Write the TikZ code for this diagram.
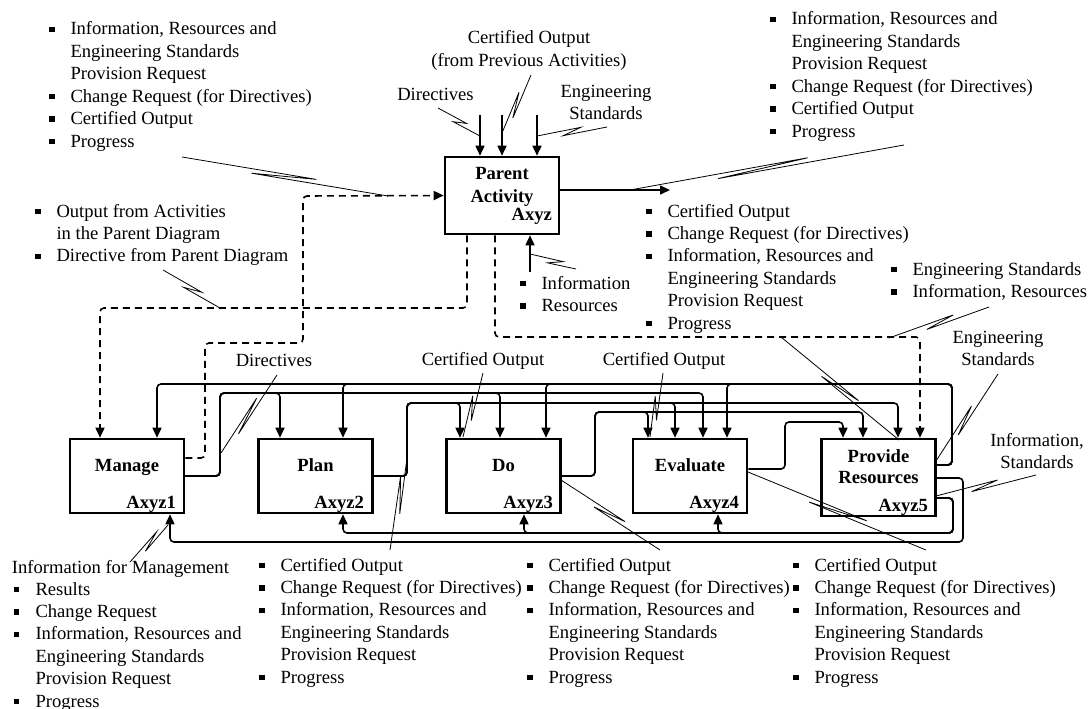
\documentclass[tikz,border=0pt]{standalone}
\usepackage{fontspec}
\setmainfont{Liberation Serif}
\usetikzlibrary{arrows.meta,calc}
\newcommand\mybul{\makebox[21.5pt][l]{\rule[2.7pt]{5.5pt}{5.5pt}}}
\newcommand\myind{\hspace*{21.5pt}}
\newcommand\mylst[1]{\vtop{\baselineskip=22.4pt\lineskiplimit=-30pt\lineskip=0pt\relax #1}}
\newcommand\myli[1]{\hbox{\mybul #1}}
\newcommand\mylc[1]{\hbox{\myind #1}}
\newcommand\myclst[1]{\vtop{\baselineskip=22.4pt\lineskiplimit=-30pt\lineskip=0pt\relax\halign{\hfil##\hfil\cr#1\crcr}}}
\begin{document}
\begin{tikzpicture}[x=1pt,y=-1pt,
 txt/.style={inner sep=0pt, outer sep=0pt, font=\fontsize{18.6}{22.4}\selectfont},
 bt/.style={inner sep=0pt, outer sep=0pt, font=\fontsize{18.6}{22.4}\selectfont\bfseries},
 box/.style={draw, line width=2.6pt, minimum width=114pt, minimum height=74pt, inner sep=0pt},
 conn/.style={line width=1.6pt, rounded corners=4pt},
 arr/.style={-{Triangle[length=10pt,width=9pt]}},
 dsh/.style={conn, dash pattern=on 7pt off 5pt},
 call/.style={line width=0.8pt},
 squig/.style 2 args={to path={-- ($(\tikztostart)!#2!(\tikztotarget)!3pt!90:(\tikztotarget)$) -- ($(\tikztostart)!#1!(\tikztotarget)!3pt!-90:(\tikztotarget)$) -- (\tikztotarget)}},
]
\useasboundingbox (0,0) rectangle (1089,709);

% ---------- boxes ----------
\node[box, minimum height=77pt] (P) at (502,195.5) {};
\node[box] (M) at (127,476) {};
\node[box] (PL) at (315.5,476) {};
\node[box] (D) at (503.5,476) {};
\node[box] (E) at (690,476) {};
\node[box, minimum height=77pt] (R) at (878.5,477.5) {};

\node[bt, anchor=base] (Pt1) at (502,179) {Parent};
\node[bt, anchor=base] (Pt2) at (502,202) {Activity};
\node[bt, anchor=base east] (Pn) at (552,220) {Axyz};
\node[bt, anchor=base] (Mt) at (127,471) {Manage};
\node[bt, anchor=base east] (Mn) at (176,508) {Axyz1};
\node[bt, anchor=base] (PLt) at (315.5,471) {Plan};
\node[bt, anchor=base east] (PLn) at (364,508) {Axyz2};
\node[bt, anchor=base] (Dt) at (503.5,471) {Do};
\node[bt, anchor=base east] (Dn) at (553,508) {Axyz3};
\node[bt, anchor=base] (Et) at (690,471) {Evaluate};
\node[bt, anchor=base east] (En) at (739,508) {Axyz4};
\node[bt, anchor=base] (Rt1) at (878.5,462) {Provide};
\node[bt, anchor=base] (Rt2) at (878.5,483) {Resources};
\node[bt, anchor=base east] (Rn) at (928,511) {Axyz5};

% ---------- parent connectors ----------
\coordinate (pi1) at (480,115);
\coordinate (pi2) at (502,115);
\coordinate (pi3) at (537,115);
\coordinate (po) at (670,190);
\coordinate (pin) at (530,272);
\draw[conn,arr] (pi1) -- (pi1 |- P.north);
\draw[conn,arr] (pi2) -- (pi2 |- P.north);
\draw[conn,arr] (pi3) -- (pi3 |- P.north);
\draw[conn,arr] ([yshift=5.5pt]P.east) -- (po);
\draw[conn,arr] (pin) -- (pin |- P.south);

% dashed
\draw[dsh,arr] ([yshift=18pt]M.east) -| (205,343) -| (303,196) -- (P.west);
\draw[dsh,arr] (467,0 |- P.south) |- (100,308) -- (100,0 |- M.north);
\draw[dsh,arr] (495,0 |- P.south) |- (920,337) -- (920,0 |- R.north);

% ---------- network ----------
\foreach \x/\bx in {280/PL,500/D,703/E}
  \draw[conn,arr] (M.east) -| (220,393) -| (\x,0 |- \bx.north);
\foreach \x/\bx in {157/M,343/PL,546/D,727/E}
  \draw[conn,arr] ([yshift=12.5pt]R.east) -| (952,384) -| (\x,0 |- \bx.north);
\foreach \x/\bx in {460/D,675/E,898/R}
  \draw[conn,arr] (PL.east) -| (407,403) -| (\x,0 |- \bx.north);
\foreach \x/\bx in {648/E,863/R}
  \draw[conn,arr] (D.east) -| (595,412) -| (\x,0 |- \bx.north);
\draw[conn,arr] ([yshift=7pt]E.east) -| (785,422) -| (843,0 |- R.north);
\draw[conn,arr] ([yshift=-0.5pt]R.east) -| (963,542) -| (170,0 |- M.south);
\foreach \x/\bx in {718/E,524/D,343/PL}
  \draw[conn,arr] ([yshift=-20.5pt]R.east) -| (953,533) -| (\x,0 |- \bx.south);

% ---------- callouts ----------
\coordinate (q1a) at (182,157);  \coordinate (q1b) at (388,196);
\coordinate (q2a) at (904,145);  \coordinate (q2b) at (630,190);
\coordinate (q3a) at (438,108);  \coordinate (q3b) at (480,136);
\coordinate (q4a) at (531,75);   \coordinate (q4b) at (502,133);
\coordinate (q5a) at (607,127);  \coordinate (q5b) at (537,136);
\coordinate (q6a) at (576,269);  \coordinate (q6b) at (530,254);
\coordinate (q7a) at (163,270);  \coordinate (q7b) at (220,308);
\coordinate (q8a) at (989,307);  \coordinate (q8b) at (889,338);
\coordinate (q9a) at (781,337);  \coordinate (q9b) at (899,440);
\coordinate (q10a) at (998,374); \coordinate (q10b) at (936,461);
\coordinate (q11a) at (1036,475);\coordinate (q11b) at (936,496);
\coordinate (q12a) at (277,375); \coordinate (q12b) at (221,453);
\coordinate (q13a) at (483,373); \coordinate (q13b) at (463,437);
\coordinate (q14a) at (663,373); \coordinate (q14b) at (650,437);
\coordinate (q15a) at (130,562); \coordinate (q15b) at (168,525);
\coordinate (q16a) at (390,550); \coordinate (q16b) at (407,458);
\coordinate (q17a) at (561,480); \coordinate (q17b) at (660,550);
\coordinate (q18a) at (748,472); \coordinate (q18b) at (926,550);
\draw[call] (q1a) to[squig={0.34}{0.65}] (q1b);
\draw[call] (q2a) to[squig={0.35}{0.68}] (q2b);
\draw[call] (q3a) to[squig={0.4}{0.64}] (q3b);
\draw[call] (q4a) to[squig={0.32}{0.72}] (q4b);
\draw[call] (q5a) to[squig={0.37}{0.63}] (q5b);
\draw[call] (q6a) to[squig={0.3}{0.6}] (q6b);
\draw[call] (q7a) to[squig={0.39}{0.65}] (q7b);
\draw[call] (q8a) to[squig={0.35}{0.63}] (q8b);
\draw[call] (q9a) to[squig={0.36}{0.64}] (q9b);
\draw[call] (q10a) to[squig={0.39}{0.68}] (q10b);
\draw[call] (q11a) to[squig={0.38}{0.65}] (q11b);
\draw[call] (q12a) to[squig={0.32}{0.73}] (q12b);
\draw[call] (q13a) to[squig={0.37}{0.73}] (q13b);
\draw[call] (q14a) to[squig={0.37}{0.73}] (q14b);
\draw[call] (q15a) to[squig={0.35}{0.75}] (q15b);
\draw[call] (q16a) to[squig={0.4}{0.8}] (q16b);
\draw[call] (q17a) to[squig={0.35}{0.63}] (q17b);
\draw[call] (q18a) to[squig={0.35}{0.66}] (q18b);

% ---------- texts ----------
\node[txt, anchor=base west] (tl) at (49,35) {\mylst{\myli{Information, Resources and}\mylc{Engineering Standards}\mylc{Provision Request}\myli{Change Request (for Directives)}\myli{Certified Output}\myli{Progress}}};
\node[txt, anchor=base west] (ml) at (35,217) {\mylst{\myli{Output from Activities}\mylc{in the Parent Diagram}\myli{Directive from Parent Diagram}}};
\node[txt, anchor=base] (tc) at (529,44) {\myclst{Certified Output\cr(from Previous Activities)}};
\node[txt, anchor=base] (tdir) at (435.5,100) {Directives};
\node[txt, anchor=base] (teng) at (606,97) {\myclst{Engineering\cr Standards}};
\node[txt, anchor=base west] (tr) at (770,25) {\mylst{\myli{Information, Resources and}\mylc{Engineering Standards}\mylc{Provision Request}\myli{Change Request (for Directives)}\myli{Certified Output}\myli{Progress}}};
\node[txt, anchor=base west] (pl) at (646,217) {\mylst{\myli{Certified Output}\myli{Change Request (for Directives)}\myli{Information, Resources and}\mylc{Engineering Standards}\mylc{Provision Request}\myli{Progress}}};
\node[txt, anchor=base west] (ir) at (520,289) {\mylst{\myli{Information}\myli{Resources}}};
\node[txt, anchor=base west] (rl) at (891,275) {\mylst{\myli{Engineering Standards}\myli{Information, Resources}}};
\node[txt, anchor=base] (reng) at (998,343) {\myclst{Engineering\cr Standards}};
\node[txt, anchor=base] (ris) at (1037,446) {\myclst{Information,\cr Standards}};
\node[txt, anchor=base] (ldir) at (274,366) {Directives};
\node[txt, anchor=base] (lco1) at (483,365) {Certified Output};
\node[txt, anchor=base] (lco2) at (664,365) {Certified Output};
\node[txt, anchor=base west] (ifm) at (12,573) {Information for Management};
\node[txt, anchor=base west] (b1) at (14,595) {\mylst{\myli{Results}\myli{Change Request}\myli{Information, Resources and}\mylc{Engineering Standards}\mylc{Provision Request}\myli{Progress}}};
\node[txt, anchor=base west] (b2) at (259,571) {\mylst{\myli{Certified Output}\myli{Change Request (for Directives)}\myli{Information, Resources and}\mylc{Engineering Standards}\mylc{Provision Request}\myli{Progress}}};
\node[txt, anchor=base west] (b3) at (527,571) {\mylst{\myli{Certified Output}\myli{Change Request (for Directives)}\myli{Information, Resources and}\mylc{Engineering Standards}\mylc{Provision Request}\myli{Progress}}};
\node[txt, anchor=base west] (b4) at (793,571) {\mylst{\myli{Certified Output}\myli{Change Request (for Directives)}\myli{Information, Resources and}\mylc{Engineering Standards}\mylc{Provision Request}\myli{Progress}}};
\end{tikzpicture}
\end{document}
